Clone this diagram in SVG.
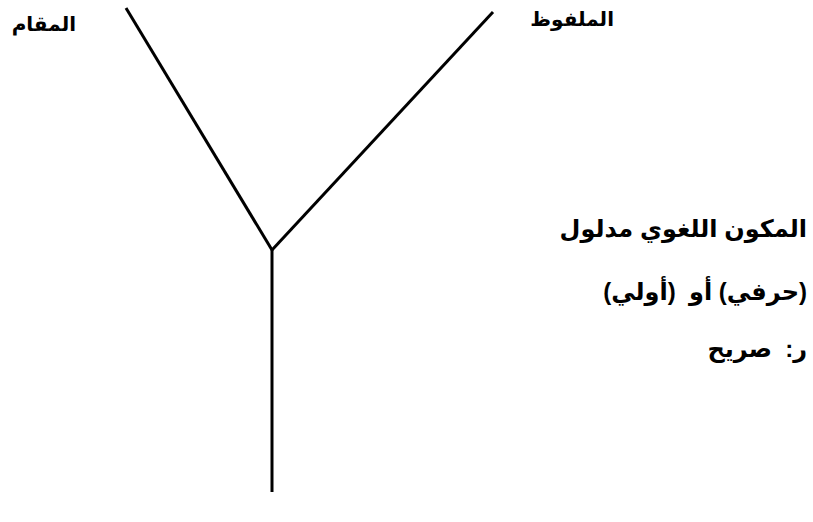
<svg xmlns="http://www.w3.org/2000/svg" width="813" height="522" viewBox="0 0 813 522">
<style>
.t{font-family:"Liberation Sans","DejaVu Sans",sans-serif;font-weight:bold;font-size:20px;fill:#000;direction:rtl;text-anchor:start}
.b{font-size:24px}
.l{stroke:#000;stroke-width:3;fill:none;stroke-linecap:butt}
</style>
<rect width="813" height="522" fill="#fff"/>
<g id="connectors">
<line class="l" x1="126" y1="8" x2="272" y2="250"/>
<line class="l" x1="493" y1="12" x2="272" y2="250"/>
<line class="l" x1="272" y1="250" x2="272" y2="492"/>
</g>
<g id="node-maqam"><text class="t" x="76" y="31">المقام</text></g>
<g id="node-malfuz"><text class="t" x="614" y="26">الملفوظ</text></g>
<g id="node-linguistic">
<text class="t b" x="807" y="237">المكون اللغوي مدلول</text>
<text class="t b" x="807" y="300">(حرفي) أو&#160; (أولي)</text>
<text class="t b" x="807" y="357">ر:&#160; صريح</text>
</g>
</svg>
